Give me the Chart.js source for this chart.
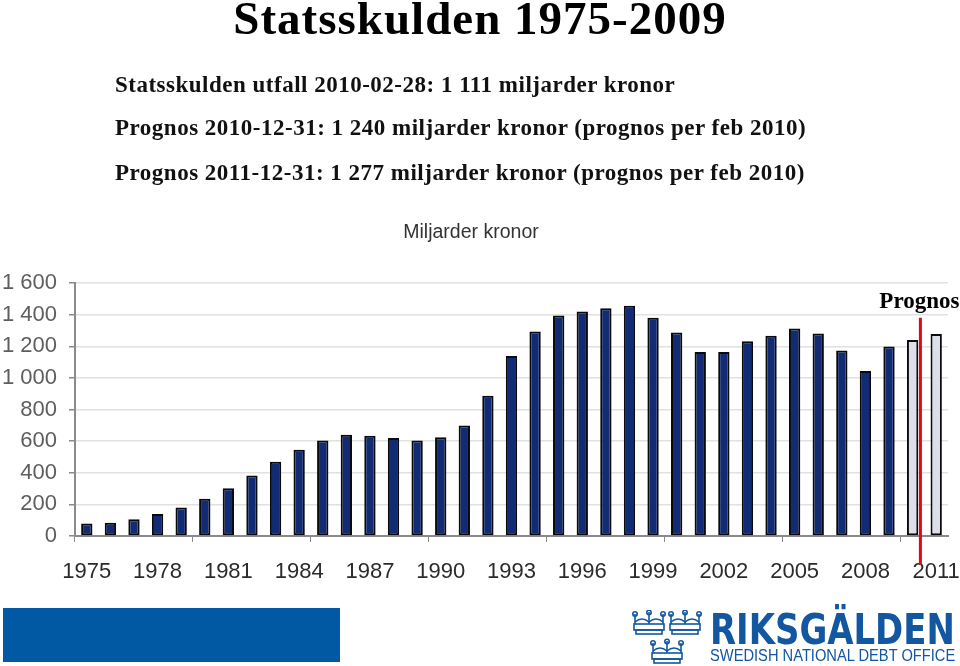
<!DOCTYPE html>
<html>
<head>
<meta charset="utf-8">
<script src="https://cdn.jsdelivr.net/npm/chart.js@4"></script>
<style>
  body { margin: 0; background: #fff; }
  #wrap { position: relative; width: 960px; height: 666px; overflow: hidden; }
  #chartBox { position: absolute; left: 0; top: 0; width: 960px; height: 666px; }
  .t { position: absolute; white-space: nowrap; }
  #title { left: 0; width: 960px; top: -9px; text-align: center; font: bold 47px "Liberation Serif", serif; letter-spacing: 1px; color: #000; }
  .sub { left: 115px; font: bold 23px "Liberation Serif", serif; letter-spacing: 0.5px; color: #111; }
  #unit { left: 0; width: 942px; top: 220px; text-align: center; font: 19.5px "Liberation Sans", Arial, sans-serif; color: #333; }
  #band { position: absolute; left: 3px; top: 608px; width: 337px; height: 54px; background: #0059a2; }
  .fit { transform-origin: 0 0; }
  #logoName { left: 710px; top: 605px; font: bold 42px "Liberation Sans Narrow", "DejaVu Sans Condensed", sans-serif; color: #1257a0; }
  #logoSub { left: 710px; top: 647px; font: 16px "Liberation Sans Narrow", "Liberation Sans", sans-serif; color: #1257a0; }
  #crowns { position: absolute; left: 632px; top: 610px; }
</style>
</head>
<body>
<div id="wrap">
  <div id="chartBox"><canvas id="chart"></canvas></div>
  <div class="t" id="title">Statsskulden 1975-2009</div>
  <div class="t sub" style="top:72px">Statsskulden utfall 2010-02-28: 1 111 miljarder kronor</div>
  <div class="t sub" style="top:115px">Prognos 2010-12-31: 1 240 miljarder kronor (prognos per feb 2010)</div>
  <div class="t sub" style="top:160px">Prognos 2011-12-31: 1 277 miljarder kronor (prognos per feb 2010)</div>
  <div class="t" id="unit">Miljarder kronor</div>
  <div id="band"></div>
  <svg id="crowns" width="72" height="56" viewBox="0 0 72 56">
    <g fill="none" stroke="#1257a0" stroke-width="1.6">
      <g id="cr">
        <path d="M3 14 L3 4 M17 14 L17 2 M31 14 L31 4"/>
        <circle cx="3" cy="4" r="2.2"/><circle cx="17" cy="2.5" r="2.2"/><circle cx="31" cy="4" r="2.2"/>
        <path d="M3 12 Q10 6 17 12 Q24 6 31 12"/>
        <rect x="2" y="14" width="30" height="6"/>
        <rect x="4" y="20" width="26" height="4"/>
      </g>
      <use href="#cr" x="36"/>
      <use href="#cr" x="18" y="29"/>
    </g>
  </svg>
  <div class="t fit" id="logoName">RIKSGÄLDEN</div>
  <div class="t fit" id="logoSub">SWEDISH NATIONAL DEBT OFFICE</div>
</div>
<script>
// statsskulden, miljarder kronor
var years = ['1975', '1976', '1977', '1978', '1979', '1980', '1981', '1982', '1983', '1984',
  '1985', '1986', '1987', '1988', '1989', '1990', '1991', '1992', '1993', '1994',
  '1995', '1996', '1997', '1998', '1999', '2000', '2001', '2002', '2003', '2004',
  '2005', '2006', '2007', '2008', '2009', '2010', '2011'];
var debt = [79, 84, 106, 139, 180, 235, 302, 382, 469, 545,
  604, 640, 634, 619, 604, 625, 699, 887, 1139, 1293,
  1395, 1420, 1441, 1456, 1380, 1287, 1164, 1164, 1232, 1266,
  1312, 1281, 1173, 1044, 1198, 1240, 1277];
var prognosYears = ['2010', '2011'];
var yTicks = [0, 200, 400, 600, 800, 1000, 1200, 1400, 1600];

// squeeze logo text to its width
document.querySelectorAll('.fit').forEach(function (el) {
  el.style.transform = 'scaleX(' + (245 / el.offsetWidth) + ')';
});

function fmt(v) {
  if (v < 1000) return String(v);
  return Math.floor(v / 1000) + ' ' + String(v % 1000).padStart(3, '0');
}

var prognosLine = {
  id: 'prognosLine',
  afterDatasetsDraw(chart) {
    var x = chart.scales.x, y = chart.scales.y, c = chart.ctx;
    var step = x.getPixelForValue(1) - x.getPixelForValue(0);
    var px = x.getPixelForValue(years.indexOf('2010')) + step * 0.33;
    c.save();
    c.strokeStyle = '#e30613';
    c.lineWidth = 3;
    c.beginPath();
    c.moveTo(px, y.getPixelForValue(1380));
    c.lineTo(px, chart.chartArea.bottom + 29);
    c.stroke();
    c.fillStyle = '#000';
    c.font = 'bold 23px "Liberation Serif", serif';
    c.textAlign = 'center';
    c.textBaseline = 'alphabetic';
    c.fillText('Prognos', px - 1, y.getPixelForValue(1400) - 7);
    c.restore();
  }
};

new Chart(document.getElementById('chart'), {
  type: 'bar',
  data: {
    labels: years,
    datasets: [{
      data: debt,
      backgroundColor: years.map(function (yr) { return prognosYears.includes(yr) ? '#dcdfe9' : '#112b74'; }),
      borderColor: '#0a0a0a',
      borderWidth: 2,
      borderSkipped: false,
      barPercentage: 0.48,
      categoryPercentage: 1
    }]
  },
  options: {
    responsive: true,
    maintainAspectRatio: false,
    animation: false,
    layout: { padding: { top: 283, right: 12, left: 0, bottom: 0 } },
    plugins: { legend: { display: false }, tooltip: { enabled: false } },
    scales: {
      x: {
        afterFit: function (s) { s.height = 130; s.paddingLeft = 0; s.paddingRight = 0; },
        grid: {
          offset: true,
          drawOnChartArea: false,
          tickLength: 6,
          tickColor: function (ctx) { return ctx.index % 5 === 0 ? '#8a8a8a' : 'rgba(0,0,0,0)'; }
        },
        border: { color: '#8a8a8a', width: 2 },
        ticks: {
          autoSkip: false,
          maxRotation: 0,
          padding: 17,
          color: '#2b2b2b',
          font: { family: '"Liberation Sans", Arial, sans-serif', size: 22 },
          callback: function (v, i) { return i % 3 === 0 ? years[i] : ''; }
        }
      },
      y: {
        min: 0,
        max: 1600,
        afterFit: function (s) { s.width = 75; },
        afterBuildTicks: function (s) { s.ticks = yTicks.map(function (v) { return { value: v }; }); },
        grid: { color: '#e1e1e1', lineWidth: 1.5, tickColor: '#8a8a8a', tickLength: 6 },
        border: { color: '#8a8a8a', width: 2 },
        ticks: {
          padding: 12,
          color: '#5e5e5e',
          font: { family: '"Liberation Sans", Arial, sans-serif', size: 22 },
          callback: function (v) { return fmt(v); }
        }
      }
    }
  },
  plugins: [prognosLine]
});
</script>
</body>
</html>
